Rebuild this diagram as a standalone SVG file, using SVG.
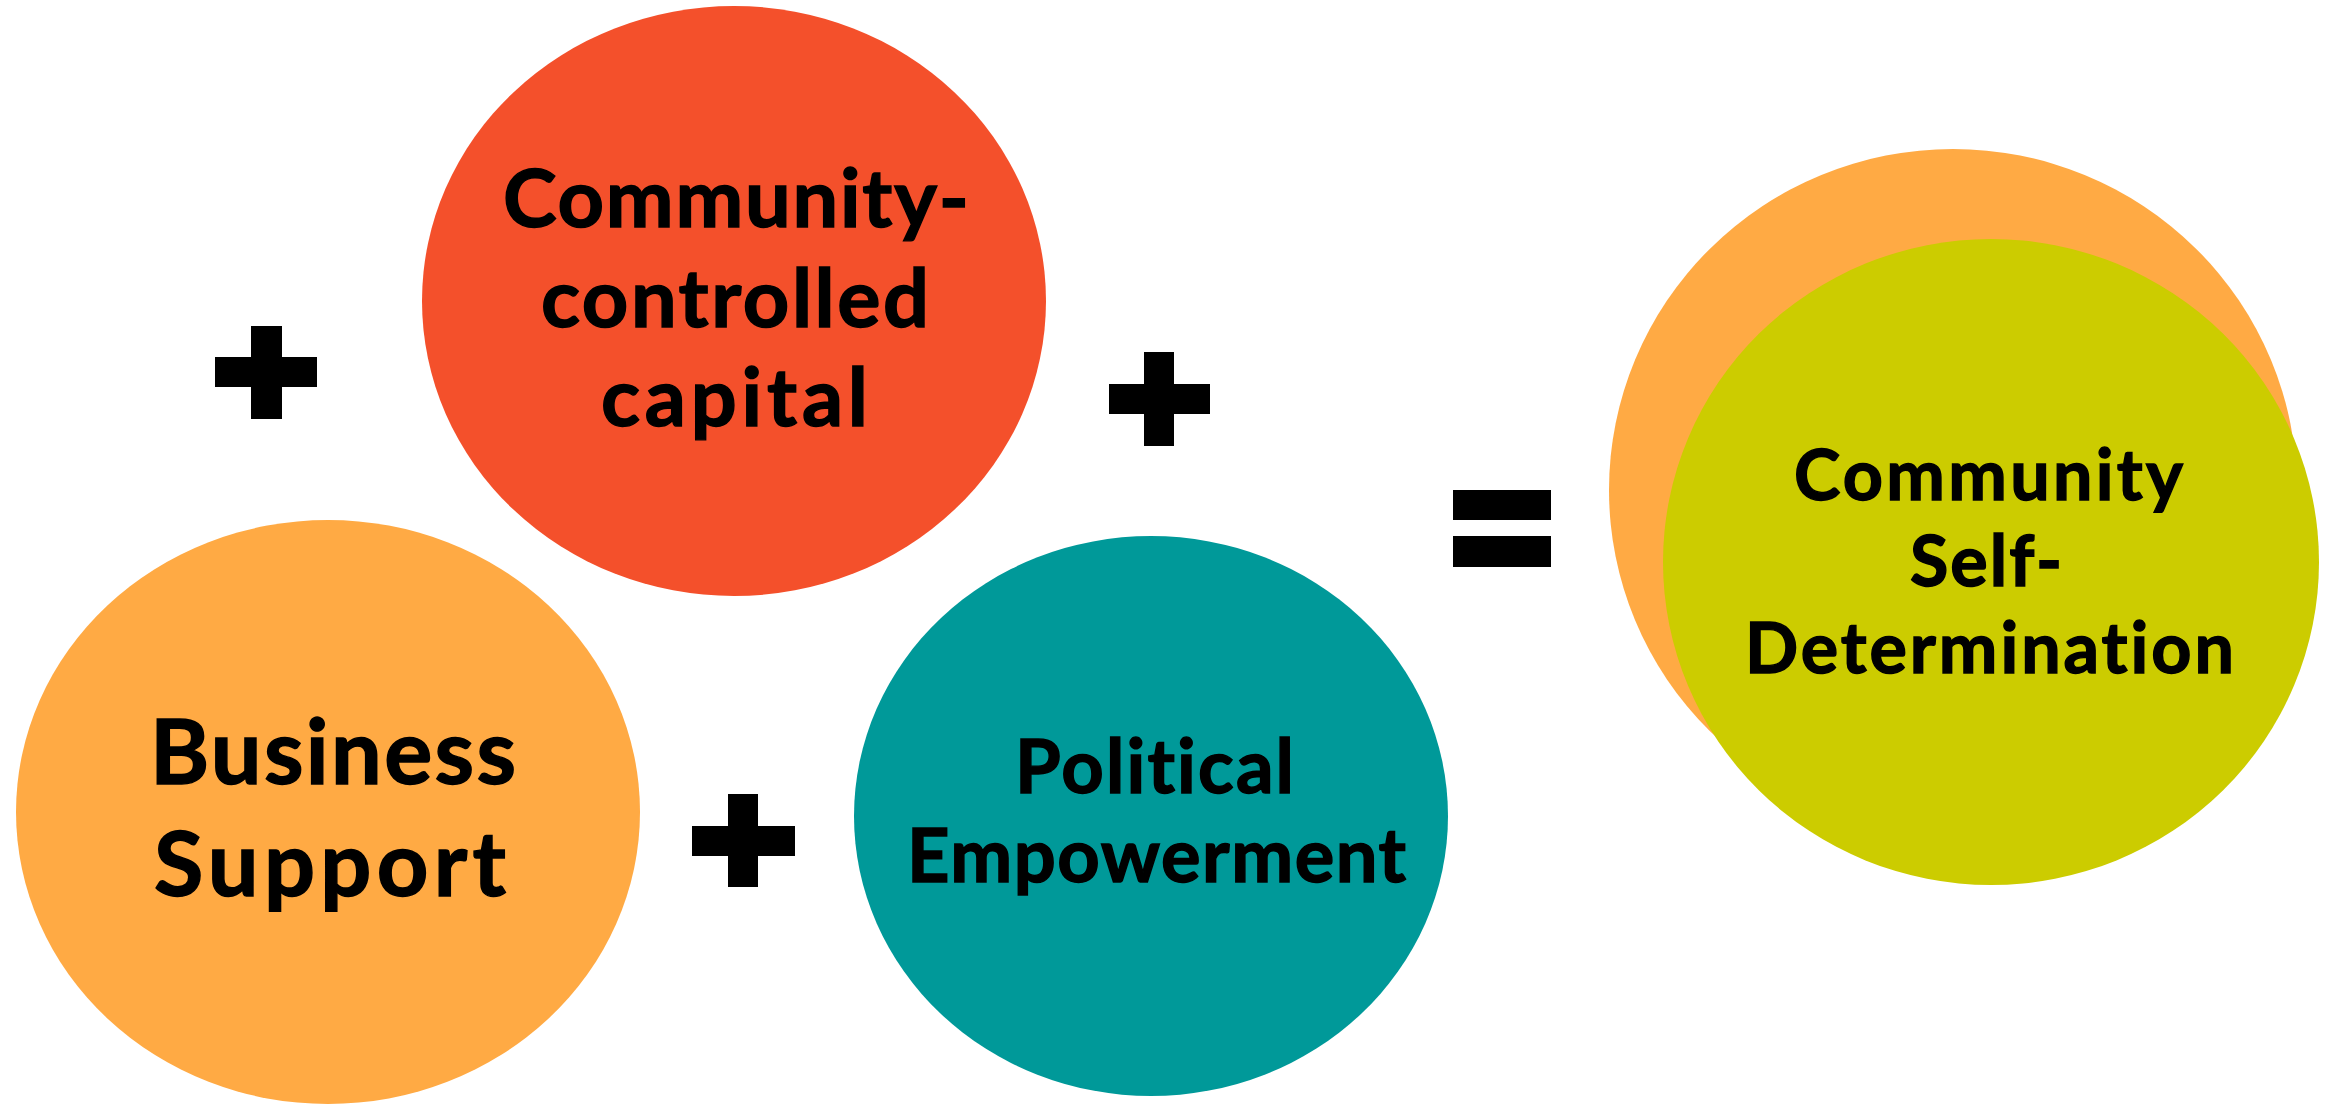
<svg xmlns="http://www.w3.org/2000/svg" width="2336" height="1105" viewBox="0 0 2336 1105">
<style>
  .lbl { font-family: Lato, "Liberation Sans", Arial, sans-serif; font-weight: 700; fill: #000000; stroke: #000000; stroke-width: 1.4; stroke-linejoin: miter; font-variant-ligatures: none; font-feature-settings: "liga" 0, "clig" 0; }
  .op { fill: #000000; }
  .red { fill: #F4502B; }
  .orange { fill: #FFAA44; }
  .teal { fill: #009999; }
  .green { fill: #CCCC00; }
</style>
<rect x="0" y="0" width="2336" height="1105" fill="#FFFFFF"/>

<g id="node-capital">
  <ellipse class="red" cx="734" cy="301" rx="312" ry="295"/>
  <text class="lbl" font-size="81" x="503" y="227" textLength="466" lengthAdjust="spacing">Community-</text>
  <text class="lbl" font-size="81" x="541" y="327" textLength="388" lengthAdjust="spacing">controlled</text>
  <text class="lbl" font-size="81" x="601" y="426" textLength="267" lengthAdjust="spacing">capital</text>
</g>

<g id="node-business">
  <ellipse class="orange" cx="328" cy="812" rx="312" ry="292"/>
  <text class="lbl" font-size="90" x="150" y="784" textLength="366" lengthAdjust="spacing">Business</text>
  <text class="lbl" font-size="90" x="154" y="896" textLength="352" lengthAdjust="spacing">Support</text>
</g>

<g id="node-political">
  <ellipse class="teal" cx="1151" cy="816" rx="297" ry="280"/>
  <text class="lbl" font-size="74" x="1015" y="793" textLength="279" lengthAdjust="spacing">Political</text>
  <text class="lbl" font-size="74" x="907" y="882" textLength="499" lengthAdjust="spacing">Empowerment</text>
</g>

<g id="node-self-determination">
  <ellipse class="orange" cx="1953" cy="490" rx="344" ry="341"/>
  <ellipse class="green" cx="1991" cy="562" rx="328" ry="323"/>
  <text class="lbl" font-size="70" x="1794" y="500" textLength="389" lengthAdjust="spacing">Community</text>
  <text class="lbl" font-size="70" x="1910" y="586" textLength="152" lengthAdjust="spacing">Self-</text>
  <text class="lbl" font-size="70" x="1745" y="673" textLength="489" lengthAdjust="spacing">Determination</text>
</g>

<g id="operators">
  <g id="plus-1">
    <rect class="op" x="251" y="326" width="31" height="93"/>
    <rect class="op" x="215" y="357" width="102" height="30"/>
  </g>
  <g id="plus-2">
    <rect class="op" x="1144" y="352" width="30" height="94"/>
    <rect class="op" x="1109" y="384" width="101" height="30"/>
  </g>
  <g id="plus-3">
    <rect class="op" x="728" y="794" width="30" height="93"/>
    <rect class="op" x="692" y="826" width="103" height="30"/>
  </g>
  <g id="equals">
    <rect class="op" x="1453" y="490" width="98" height="30"/>
    <rect class="op" x="1453" y="536" width="98" height="31"/>
  </g>
</g>
</svg>
